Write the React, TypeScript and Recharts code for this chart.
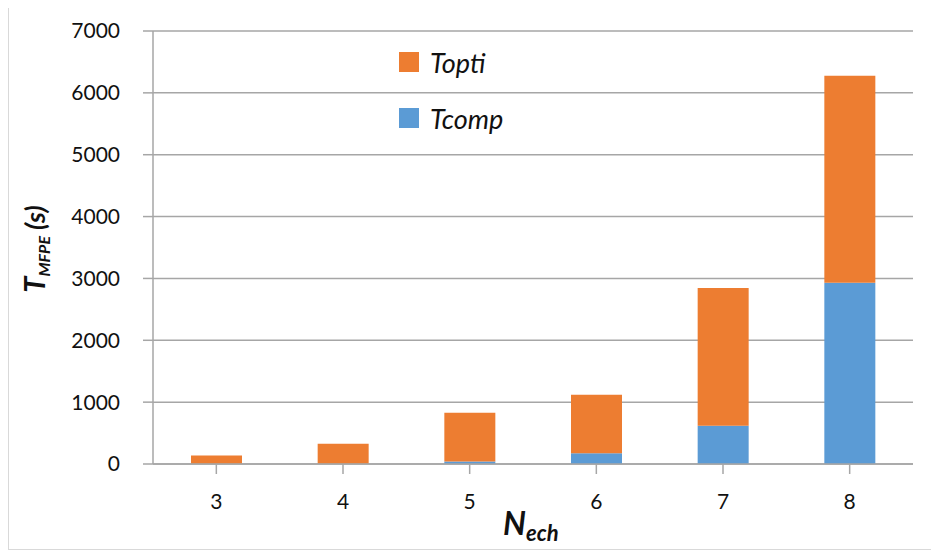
import { Bar, BarChart, CartesianGrid, XAxis, YAxis } from "recharts"

const categories = ["3", "4", "5", "6", "7", "8"]
const tcomp = [3, 6, 42, 172, 620, 2930]
const topti = [136, 322, 788, 949, 2226, 3347]
const yTicks = [0, 1000, 2000, 3000, 4000, 5000, 6000, 7000]

const series = [
  { key: "Tcomp", color: "#5B9BD5" },
  { key: "Topti", color: "#ED7D31" },
]

const data = categories.map((name, i) => ({ name, Tcomp: tcomp[i], Topti: topti[i] }))

const FONT = "Lato, 'Open Sans', sans-serif"
const GRID = "#a6a6a6"

// legend sits inside the plot, Topti above Tcomp
function LegendBox() {
  const items = [...series].reverse()
  return (
    <div
      style={{
        position: "absolute",
        left: 390,
        top: 44,
        display: "flex",
        flexDirection: "column",
        gap: 36,
        fontFamily: FONT,
      }}
    >
      {items.map((it) => (
        <div key={it.key} style={{ display: "flex", alignItems: "center", height: 20 }}>
          <span style={{ width: 20, height: 20, background: it.color, display: "inline-block" }} />
          <span style={{ marginLeft: 11, fontSize: 27, fontStyle: "italic", color: "#111" }}>{it.key}</span>
        </div>
      ))}
    </div>
  )
}

export default function App() {
  return (
    <div style={{ position: "relative", width: 923, height: 541, border: "1px solid #d9d9d9", marginTop: -1 }}>
      <BarChart
        width={923}
        height={541}
        data={data}
        margin={{ top: 23, right: 19, bottom: 0, left: 0 }}
        barCategoryGap="30%"
      >
        <CartesianGrid vertical={false} stroke={GRID} strokeWidth={1.5} />
        <XAxis
          dataKey="name"
          height={85}
          stroke={GRID}
          strokeWidth={1.5}
          tickSize={10}
          tickMargin={20}
          tick={{ fill: "#111", fontSize: 21, fontFamily: FONT }}
          label={{
            content: () => (
              <text x={494} y={527} fontFamily={FONT} fill="#111" fontWeight="bold" fontStyle="italic">
                <tspan fontSize={32}>N</tspan>
                <tspan fontSize={22} dy={6}>ech</tspan>
              </text>
            ),
          }}
        />
        <YAxis
          width={144}
          domain={[0, 7000]}
          ticks={yTicks}
          interval={0}
          stroke={GRID}
          strokeWidth={1.5}
          tickSize={10}
          tickMargin={23}
          tick={{ fill: "#111", fontSize: 21, fontFamily: FONT }}
          label={{
            content: () => (
              <text
                x={36}
                y={241}
                transform="rotate(-90 36 241)"
                textAnchor="middle"
                fontFamily={FONT}
                fill="#111"
                fontWeight="bold"
                fontStyle="italic"
              >
                <tspan fontSize={29}>T</tspan>
                <tspan fontSize={16} dy={5}>MFPE</tspan>
                <tspan fontSize={27} dy={-5}> (s)</tspan>
              </text>
            ),
          }}
        />
        {series.map((s) => (
          <Bar key={s.key} dataKey={s.key} stackId="t" fill={s.color} isAnimationActive={false} />
        ))}
      </BarChart>
      <LegendBox />
    </div>
  )
}
